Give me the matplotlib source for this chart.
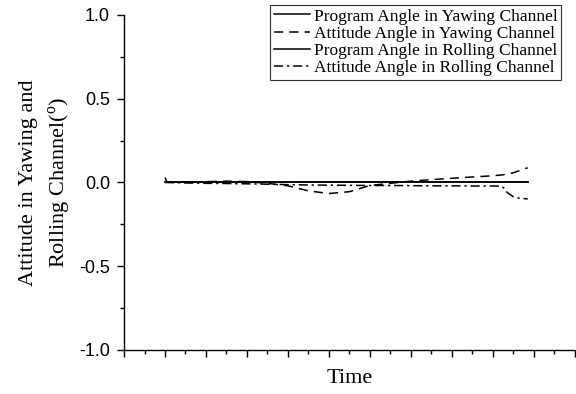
import matplotlib
matplotlib.use("Agg")
import matplotlib.pyplot as plt
from matplotlib.ticker import MultipleLocator, NullFormatter

plt.rcParams["mathtext.fontset"] = "custom"
plt.rcParams["mathtext.rm"] = "Liberation Serif"

# Program (reference) angles: held at zero over the run
program_time = [1.0, 9.85]
program_yaw = [0.0, 0.0]
program_roll = [0.0, 0.0]

# Measured attitude angle in the yawing channel
yaw_time = [1.0, 1.05, 1.5, 2.0, 2.5, 3.0, 3.5, 4.0, 4.5, 5.0, 5.5, 6.0,
            6.5, 7.0, 7.5, 8.0, 8.5, 9.0, 9.25, 9.5, 9.7, 9.85]
yaw_attitude = [0.03, 0.002, 0.003, 0.005, 0.008, 0.005, -0.005, -0.02,
                -0.05, -0.066, -0.055, -0.018, -0.005, 0.008, 0.017, 0.025,
                0.033, 0.04, 0.046, 0.058, 0.075, 0.088]

# Measured attitude angle in the rolling channel
roll_time = [1.0, 1.5, 2.0, 2.5, 3.0, 3.5, 4.0, 4.5, 5.0, 5.5, 6.0, 6.5,
             7.0, 7.5, 8.0, 8.5, 9.0, 9.2, 9.28, 9.35, 9.5, 9.65, 9.85]
roll_attitude = [0.0, -0.003, -0.005, -0.006, -0.008, -0.01, -0.013, -0.015,
                 -0.016, -0.017, -0.018, -0.018, -0.019, -0.02, -0.02, -0.021,
                 -0.021, -0.022, -0.035, -0.06, -0.085, -0.094, -0.098]

legend_labels = ["Program Angle in Yawing Channel",
                 "Attitude Angle in Yawing Channel",
                 "Program Angle in Rolling Channel",
                 "Attitude Angle in Rolling Channel"]

serif = "Liberation Serif"
sans = "Liberation Sans"

fig = plt.figure(figsize=(5.76, 3.94), dpi=100)
ax = fig.add_axes([0.2153, 0.1117, 0.998 - 0.2153, 0.962 - 0.1117])

lw = 1.1
ax.plot(program_time, program_yaw, color="black", lw=lw, ls="-",
        label=legend_labels[0])
ax.plot(yaw_time, yaw_attitude, color="black", lw=lw, dashes=(6, 4),
        label=legend_labels[1])
ax.plot(program_time, program_roll, color="black", lw=lw, ls="-",
        label=legend_labels[2])
ax.plot(roll_time, roll_attitude, color="black", lw=lw,
        dashes=(6, 2.5, 1.5, 2.5), label=legend_labels[3])

ax.set_xlim(0, 11)
ax.set_ylim(-1.0, 1.0)
ax.xaxis.set_major_locator(MultipleLocator(1))
ax.xaxis.set_minor_locator(MultipleLocator(0.5))
ax.xaxis.set_major_formatter(NullFormatter())
ax.yaxis.set_major_locator(MultipleLocator(0.5))
ax.yaxis.set_minor_locator(MultipleLocator(0.25))
ax.yaxis.set_major_formatter(plt.FuncFormatter(lambda v, p: f"{v:.1f}"))

for side in ("top", "right"):
    ax.spines[side].set_visible(False)
for side in ("left", "bottom"):
    ax.spines[side].set_linewidth(1.0)

ax.tick_params(which="major", direction="out", length=5, width=1.0,
               labelsize=13, pad=5)
ax.tick_params(which="minor", direction="out", length=3, width=1.0)
for lbl in ax.get_yticklabels():
    lbl.set_fontfamily(sans)

ax.set_xlabel("Time", fontfamily=serif, fontsize=16, labelpad=4)
ax.set_ylabel("Attitude in Yawing and\nRolling Channel($^{\\mathrm{o}}$)",
              fontfamily=serif, fontsize=16, labelpad=4.5, linespacing=1.45)

leg = ax.legend(loc="upper right", bbox_to_anchor=(0.969, 1.03),
                prop={"family": serif, "size": 12.5}, frameon=True,
                fancybox=False, shadow=False, handlelength=2.1,
                handletextpad=0.2, labelspacing=0.06, borderpad=0.2,
                borderaxespad=0.0)
leg.get_frame().set_edgecolor("black")
leg.get_frame().set_linewidth(0.8)

fig.savefig("out.png", dpi=100)
